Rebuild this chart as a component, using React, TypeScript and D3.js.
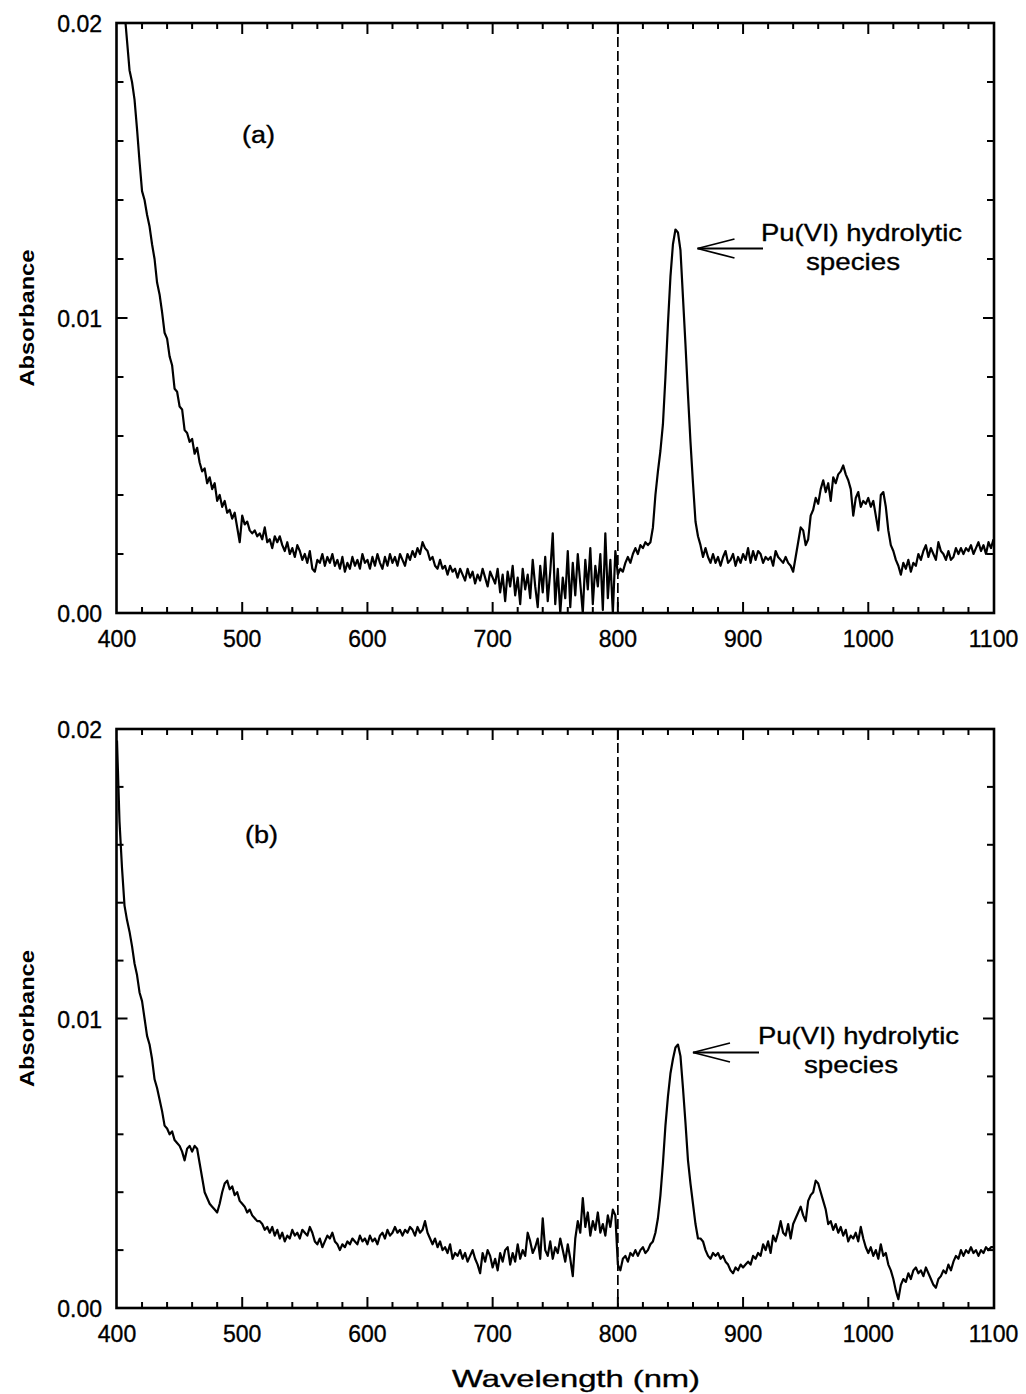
import React from "react";
import * as d3 from "d3";

// Spectra sampled every 2 nm from 400 nm to 1100 nm, absorbance in units of 10^-3 (mAU)
const WL_START = 400;
const WL_STEP = 2;

const absorbanceA_mAU = [
  24.0, 22.5, 21.3, 20.4, 19.4, 18.4, 18.0, 17.4, 16.4, 15.3,
  14.3, 14.0, 13.5, 13.1, 12.5, 12.0, 11.2, 10.8, 10.2, 9.5,
  9.3, 8.7, 8.4, 7.6, 7.5, 7.0, 6.9, 6.2, 6.1, 5.8,
  5.9, 5.4, 5.6, 5.1, 4.8, 4.9, 4.4, 4.6, 4.2, 4.4,
  3.8, 4.0, 3.6, 3.8, 3.4, 3.5, 3.2, 3.4, 2.9, 2.4,
  3.3, 3.0, 3.1, 2.8, 2.7, 2.8, 2.6, 2.7, 2.5, 2.9,
  2.4, 2.5, 2.2, 2.6, 2.4, 2.6, 2.3, 2.1, 2.4, 2.0,
  2.2, 1.9, 2.3, 2.1, 1.8, 2.0, 1.7, 2.1, 1.5, 1.4,
  1.8, 1.7, 2.0, 1.6, 1.9, 1.7, 2.0, 1.6, 1.8, 1.5,
  1.9, 1.4, 1.7, 1.5, 1.9, 1.6, 1.8, 1.5, 2.0, 1.7,
  1.8, 1.5, 1.9, 1.6, 2.0, 1.7, 1.5, 1.9, 1.6, 2.0,
  1.7, 1.9, 1.6, 2.0, 1.8, 1.6, 2.0, 1.8, 2.1, 1.9,
  2.2, 2.0, 2.4, 2.2, 2.1, 1.8, 1.9, 1.6, 1.5, 1.8,
  1.5, 1.6, 1.3, 1.6, 1.4, 1.5, 1.2, 1.5, 1.3, 1.1,
  1.5, 1.2, 1.4, 1.0, 1.3, 1.1, 1.5, 1.2, 0.9, 1.4,
  1.2, 1.0, 1.5, 0.7, 1.3, 0.4, 1.4, 0.9, 1.6, 0.6,
  1.2, 0.3, 1.5, 0.8, 1.3, 0.5, 1.8, 0.9, 0.2, 1.6,
  0.7, 1.9, 0.4, 1.4, 2.7, 0.3, 1.5, 0.0, 1.2, 0.5,
  2.1, 0.2, 1.7, 0.6, 2.0, 1.0, 0.0, 1.8, 0.8, 2.2,
  0.3, 1.6, 0.9, 2.0, 0.1, 2.7, 0.5, 1.8, 0.0, 2.1,
  1.3, 1.5, 1.4, 1.7, 1.9, 1.7, 2.0, 2.2, 2.0, 2.3,
  2.2, 2.4, 2.3, 2.4, 2.9, 4.0, 4.8, 5.5, 6.4, 8.0,
  9.8, 11.4, 12.5, 13.0, 12.9, 12.3, 10.7, 9.1, 7.4, 5.8,
  4.4, 3.1, 2.6, 2.3, 1.9, 2.2, 1.9, 1.7, 2.0, 1.7,
  1.9, 1.6, 1.9, 2.1, 1.7, 1.8, 2.0, 1.6, 1.9, 1.7,
  2.0, 1.8, 2.2, 1.7, 2.1, 1.8, 2.1, 2.0, 1.7, 1.9,
  1.8, 1.9, 1.6, 2.1, 1.9, 1.8, 1.7, 1.9, 1.7, 1.6,
  1.4, 1.9, 2.4, 2.9, 2.8, 2.3, 2.5, 3.3, 3.5, 3.9,
  3.7, 4.2, 4.5, 4.1, 4.4, 3.8, 4.6, 4.4, 4.7, 4.8,
  5.0, 4.7, 4.5, 4.2, 3.3, 3.9, 4.1, 3.6, 3.8, 3.7,
  3.9, 3.6, 3.8, 3.3, 2.8, 4.0, 4.1, 3.6, 2.8, 2.3,
  2.1, 1.8, 1.6, 1.3, 1.7, 1.5, 1.8, 1.4, 1.7, 1.6,
  2.0, 1.8, 2.1, 2.3, 1.9, 2.2, 2.0, 1.8, 2.4, 2.1,
  2.0, 1.8, 2.1, 1.8, 1.9, 2.2, 2.0, 2.2, 2.0, 2.2,
  2.1, 2.3, 2.0, 2.2, 2.4, 2.1, 2.3, 2.0, 2.4, 2.2,
  2.5,
];

const absorbanceB_mAU = [
  19.6, 16.8, 15.2, 13.9, 13.4, 13.0, 12.5, 11.9, 11.5, 10.9,
  10.6, 10.0, 9.4, 9.1, 8.6, 7.9, 7.6, 7.2, 6.8, 6.3,
  6.2, 6.0, 6.1, 5.8, 5.7, 5.6, 5.4, 5.1, 5.5, 5.6,
  5.4, 5.6, 5.5, 5.0, 4.5, 4.0, 3.8, 3.6, 3.5, 3.4,
  3.3, 3.6, 4.0, 4.3, 4.4, 4.1, 4.2, 3.9, 4.0, 3.7,
  3.6, 3.5, 3.3, 3.4, 3.2, 3.1, 3.0, 3.0, 2.9, 2.7,
  2.8, 2.6, 2.8, 2.5, 2.7, 2.4, 2.6, 2.3, 2.5, 2.4,
  2.7, 2.5, 2.6, 2.4, 2.7, 2.6, 2.5, 2.8, 2.6, 2.3,
  2.2, 2.4, 2.1, 2.3, 2.5, 2.4, 2.6, 2.3, 2.2, 2.0,
  2.2, 2.1, 2.3, 2.2, 2.4, 2.3, 2.2, 2.5, 2.3, 2.4,
  2.2, 2.5, 2.3, 2.4, 2.2, 2.5, 2.6, 2.4, 2.7, 2.5,
  2.6, 2.8, 2.6, 2.7, 2.5, 2.7, 2.6, 2.8, 2.7, 2.5,
  2.8, 2.6, 2.7, 3.0, 2.6, 2.4, 2.2, 2.4, 2.1, 2.3,
  2.0, 2.1, 1.9, 2.2, 1.7, 1.9, 1.8, 2.0, 1.7, 1.9,
  1.6, 1.8, 2.0, 1.7, 1.5, 1.2, 1.9, 1.6, 2.0, 1.8,
  1.4, 1.7, 1.3, 1.9, 1.6, 2.0, 2.1, 1.5, 1.9, 1.6,
  2.2, 1.7, 2.0, 1.8, 2.6, 2.3, 1.9, 2.1, 2.4, 1.7,
  3.1, 2.0, 1.8, 2.3, 1.7, 2.1, 1.9, 2.4, 2.0, 1.6,
  2.2, 1.7, 1.1, 2.4, 3.0, 2.6, 3.8, 2.8, 3.3, 2.5,
  3.0, 2.7, 3.3, 2.6, 2.9, 2.5, 3.2, 2.8, 3.4, 3.2,
  1.5, 1.3, 1.7, 1.8, 1.6, 1.9, 1.8, 2.0, 1.8, 2.0,
  2.1, 1.9, 2.0, 2.2, 2.3, 2.6, 3.1, 3.9, 5.0, 6.3,
  7.3, 8.1, 8.6, 9.0, 9.1, 8.7, 7.6, 6.4, 5.1, 4.3,
  3.6, 2.9, 2.4, 2.4, 2.3, 2.0, 1.8, 1.7, 1.9, 1.8,
  1.9, 1.7, 1.8, 1.6, 1.5, 1.3, 1.2, 1.4, 1.3, 1.5,
  1.4, 1.5, 1.6, 1.5, 1.8, 1.7, 1.9, 1.8, 2.2, 2.0,
  2.3, 1.9, 2.5, 2.3, 2.6, 3.0, 2.6, 2.5, 2.9, 2.4,
  2.9, 3.1, 3.3, 3.5, 3.2, 3.0, 3.7, 3.9, 4.0, 4.4,
  4.3, 4.0, 3.7, 3.4, 2.9, 3.0, 2.7, 2.9, 2.6, 2.8,
  2.5, 2.7, 2.3, 2.5, 2.4, 2.6, 2.3, 2.8, 2.4, 2.1,
  1.9, 2.1, 1.8, 2.0, 1.7, 2.2, 1.8, 1.9, 1.5, 1.3,
  1.0, 0.6, 0.3, 0.8, 1.0, 0.9, 1.2, 1.0, 1.3, 1.4,
  1.2, 1.3, 1.1, 1.4, 1.2, 1.0, 0.8, 0.7, 1.0, 1.1,
  1.3, 1.2, 1.5, 1.3, 1.6, 1.8, 1.7, 2.0, 1.8, 2.0,
  1.9, 2.1, 1.9, 2.0, 1.8, 2.0, 1.9, 2.1, 2.0, 2.1,
  2.1,
];

const xMajorTicks = [400, 500, 600, 700, 800, 900, 1000, 1100];
const xTickLabels = ["400", "500", "600", "700", "800", "900", "1000", "1100"];
const yMajorTicks = [0, 0.01, 0.02];
const yTickLabels = ["0.00", "0.01", "0.02"];
const detectorSwitchNm = 800;
const panelLabels = ["(a)", "(b)"];
const annotationLines = ["Pu(VI) hydrolytic", "species"];

const FONT = "'Liberation Sans', Arial, Helvetica, sans-serif";
const TEXT_STROKE = { stroke: "#000", strokeWidth: 0.35 };

type Annot = {
  textX: number;
  line1Y: number;
  line2X: number;
  line2Y: number;
  tipX: number;
  tailX: number;
  arrowY: number;
};

type PanelProps = {
  id: string;
  top: number;
  bottom: number;
  values: number[];
  label: string;
  labelX: number;
  labelY: number;
  annot: Annot;
};

const LEFT = 117;
const RIGHT = 993.5;

function Panel({ id, top, bottom, values, label, labelX, labelY, annot }: PanelProps) {
  const x = d3.scaleLinear().domain([400, 1100]).range([LEFT, RIGHT]);
  const y = d3.scaleLinear().domain([0, 0.02]).range([bottom, top]);
  const pts: [number, number][] = values.map((v, i) => [WL_START + i * WL_STEP, v / 1000]);
  const line = d3
    .line<[number, number]>()
    .x((d) => x(d[0]))
    .y((d) => y(d[1]));
  const xMinor = d3.range(420, 1100, 20);
  const yMinor = d3.range(1, 10).map((k) => k * 0.002);
  const frameL = LEFT - 0.5;
  const frameR = RIGHT + 0.5;
  const ticks: JSX.Element[] = [];
  xMinor.forEach((t) => {
    const major = t % 100 === 0;
    const len = major ? 11 : 6;
    ticks.push(<line key={`xb${t}`} x1={x(t)} x2={x(t)} y1={bottom} y2={bottom - len} />);
    ticks.push(<line key={`xt${t}`} x1={x(t)} x2={x(t)} y1={top} y2={top + len} />);
  });
  yMinor.forEach((t, i) => {
    const major = i === 4;
    const len = major ? 11 : 7;
    ticks.push(<line key={`yl${i}`} x1={frameL} x2={frameL + len} y1={y(t)} y2={y(t)} />);
    ticks.push(<line key={`yr${i}`} x1={frameR} x2={frameR - len} y1={y(t)} y2={y(t)} />);
  });
  const dx = 37;
  const dy = 9.5;
  return (
    <g>
      <defs>
        <clipPath id={`clip-${id}`}>
          <rect x={frameL} y={top} width={frameR - frameL} height={bottom - top} />
        </clipPath>
      </defs>
      <line
        x1={x(detectorSwitchNm)}
        x2={x(detectorSwitchNm)}
        y1={top}
        y2={bottom}
        stroke="#000"
        strokeWidth={1.7}
        strokeDasharray="10 4"
      />
      <path
        d={line(pts) || ""}
        fill="none"
        stroke="#000"
        strokeWidth={2.2}
        strokeLinejoin="round"
        clipPath={`url(#clip-${id})`}
      />
      <g stroke="#000" strokeWidth={2}>
        {ticks}
      </g>
      <rect
        x={frameL}
        y={top}
        width={frameR - frameL}
        height={bottom - top}
        fill="none"
        stroke="#000"
        strokeWidth={2.6}
      />
      <g fontFamily={FONT} fontSize={23} fill="#000" {...TEXT_STROKE}>
        {xMajorTicks.map((t, i) => (
          <text key={`xl${t}`} x={x(t)} y={bottom + 34} textAnchor="middle">
            {xTickLabels[i]}
          </text>
        ))}
        {yMajorTicks.map((t, i) => (
          <text key={`yl${t}`} x={102} y={y(t) + 9} textAnchor="end">
            {yTickLabels[i]}
          </text>
        ))}
      </g>
      <text
        transform={`translate(34, ${(top + bottom) / 2}) rotate(-90)`}
        textAnchor="middle"
        fontFamily={FONT}
        fontWeight="bold"
        fontSize={21}
        textLength={137}
        lengthAdjust="spacingAndGlyphs"
      >
        Absorbance
      </text>
      <text
        x={labelX}
        y={labelY}
        fontFamily={FONT}
        fontSize={23}
        textLength={33}
        lengthAdjust="spacingAndGlyphs"
        {...TEXT_STROKE}
      >
        {label}
      </text>
      <text
        x={annot.textX}
        y={annot.line1Y}
        fontFamily={FONT}
        fontSize={24}
        textLength={201}
        lengthAdjust="spacingAndGlyphs"
        {...TEXT_STROKE}
      >
        {annotationLines[0]}
      </text>
      <text
        x={annot.line2X}
        y={annot.line2Y}
        fontFamily={FONT}
        fontSize={24}
        textLength={94}
        lengthAdjust="spacingAndGlyphs"
        {...TEXT_STROKE}
      >
        {annotationLines[1]}
      </text>
      <g stroke="#000" strokeWidth={1.8} fill="none">
        <line x1={annot.tailX} x2={annot.tipX} y1={annot.arrowY} y2={annot.arrowY} />
        <polyline
          points={`${annot.tipX + dx},${annot.arrowY - dy} ${annot.tipX},${annot.arrowY} ${annot.tipX + dx},${annot.arrowY + dy}`}
        />
      </g>
    </g>
  );
}

export default function App() {
  return (
    <svg
      width={1026}
      height={1394}
      viewBox="0 0 1026 1394"
      style={{ position: "absolute", left: 0, top: 0, background: "#fff" }}
    >
      <rect x={0} y={0} width={1026} height={1394} fill="#fff" />
      <Panel
        id="a"
        top={23}
        bottom={613}
        values={absorbanceA_mAU}
        label={panelLabels[0]}
        labelX={242}
        labelY={143}
        annot={{ textX: 761, line1Y: 241, line2X: 806, line2Y: 270, tipX: 697.5, tailX: 763, arrowY: 248.5 }}
      />
      <Panel
        id="b"
        top={729}
        bottom={1308}
        values={absorbanceB_mAU}
        label={panelLabels[1]}
        labelX={245}
        labelY={843}
        annot={{ textX: 758, line1Y: 1044, line2X: 804, line2Y: 1073, tipX: 693, tailX: 759, arrowY: 1052.5 }}
      />
      <text
        x={576}
        y={1387}
        textAnchor="middle"
        fontFamily={FONT}
        fontSize={24}
        textLength={248}
        lengthAdjust="spacingAndGlyphs"
        {...TEXT_STROKE}
      >
        Wavelength (nm)
      </text>
    </svg>
  );
}
